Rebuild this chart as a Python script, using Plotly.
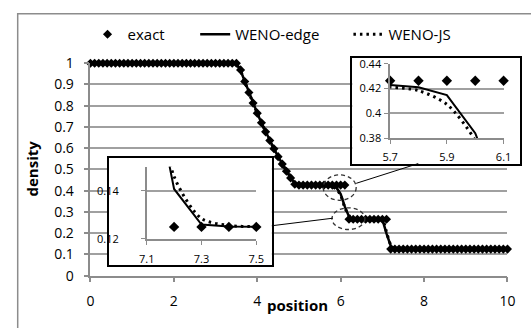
import plotly.graph_objects as go

# ---------------- data ----------------
x_pos = [
    0.0, 0.1, 0.2, 0.3, 0.4, 0.5, 0.6, 0.7, 0.8, 0.9,
    1.0, 1.1, 1.2, 1.3, 1.4, 1.5, 1.6, 1.7, 1.8, 1.9,
    2.0, 2.1, 2.2, 2.3, 2.4, 2.5, 2.6, 2.7, 2.8, 2.9,
    3.0, 3.1, 3.2, 3.3, 3.4, 3.5, 3.6, 3.7, 3.8, 3.9,
    4.0, 4.1, 4.2, 4.3, 4.4, 4.5, 4.6, 4.7, 4.8, 4.9,
    5.0, 5.1, 5.2, 5.3, 5.4, 5.5, 5.6, 5.7, 5.8, 5.9,
    6.0, 6.1, 6.2, 6.3, 6.4, 6.5, 6.6, 6.7, 6.8, 6.9,
    7.0, 7.1, 7.2, 7.3, 7.4, 7.5, 7.6, 7.7, 7.8, 7.9,
    8.0, 8.1, 8.2, 8.3, 8.4, 8.5, 8.6, 8.7, 8.8, 8.9,
    9.0, 9.1, 9.2, 9.3, 9.4, 9.5, 9.6, 9.7, 9.8, 9.9,
    10.0,
]

rho_exact = [
    1.0, 1.0, 1.0, 1.0, 1.0, 1.0, 1.0, 1.0, 1.0, 1.0,
    1.0, 1.0, 1.0, 1.0, 1.0, 1.0, 1.0, 1.0, 1.0, 1.0,
    1.0, 1.0, 1.0, 1.0, 1.0, 1.0, 1.0, 1.0, 1.0, 1.0,
    1.0, 1.0, 1.0, 1.0, 1.0, 1.0, 0.9687, 0.9142, 0.8621, 0.8124,
    0.7651, 0.7200, 0.6770, 0.6361, 0.5972, 0.5602, 0.5252, 0.4918, 0.4602, 0.4302,
    0.4263, 0.4263, 0.4263, 0.4263, 0.4263, 0.4263, 0.4263, 0.4263, 0.4263, 0.4263,
    0.4263, 0.4263, 0.2656, 0.2656, 0.2656, 0.2656, 0.2656, 0.2656, 0.2656, 0.2656,
    0.2656, 0.2656, 0.125, 0.125, 0.125, 0.125, 0.125, 0.125, 0.125, 0.125,
    0.125, 0.125, 0.125, 0.125, 0.125, 0.125, 0.125, 0.125, 0.125, 0.125,
    0.125, 0.125, 0.125, 0.125, 0.125, 0.125, 0.125, 0.125, 0.125, 0.125,
    0.125,
]

rho_weno_edge = [
    1.0, 1.0, 1.0, 1.0, 1.0, 1.0, 1.0, 1.0, 1.0, 1.0,
    1.0, 1.0, 1.0, 1.0, 1.0, 1.0, 1.0, 1.0, 1.0, 1.0,
    1.0, 1.0, 1.0, 1.0, 1.0, 1.0, 1.0, 1.0, 1.0, 1.0,
    1.0, 1.0, 1.0, 1.0, 1.0, 0.9990, 0.9650, 0.9135, 0.8618, 0.8122,
    0.7650, 0.7200, 0.6771, 0.6362, 0.5973, 0.5604, 0.5254, 0.4922, 0.4612, 0.4345,
    0.4262, 0.4258, 0.4254, 0.4250, 0.4245, 0.4240, 0.4234, 0.4228, 0.4210, 0.4147,
    0.3840, 0.3250, 0.2780, 0.2680, 0.2662, 0.2657, 0.2656, 0.2656, 0.2656, 0.2656,
    0.2652, 0.1980, 0.1408, 0.1260, 0.1252, 0.1251, 0.125, 0.125, 0.125, 0.125,
    0.125, 0.125, 0.125, 0.125, 0.125, 0.125, 0.125, 0.125, 0.125, 0.125,
    0.125, 0.125, 0.125, 0.125, 0.125, 0.125, 0.125, 0.125, 0.125, 0.125,
    0.125,
]

rho_weno_js = [
    1.0, 1.0, 1.0, 1.0, 1.0, 1.0, 1.0, 1.0, 1.0, 1.0,
    1.0, 1.0, 1.0, 1.0, 1.0, 1.0, 1.0, 1.0, 1.0, 1.0,
    1.0, 1.0, 1.0, 1.0, 1.0, 1.0, 1.0, 1.0, 1.0, 1.0,
    1.0, 1.0, 1.0, 1.0, 1.0, 0.9985, 0.9640, 0.9130, 0.8615, 0.8120,
    0.7648, 0.7199, 0.6771, 0.6363, 0.5975, 0.5606, 0.5257, 0.4927, 0.4620, 0.4355,
    0.4270, 0.4262, 0.4255, 0.4248, 0.4240, 0.4232, 0.4222, 0.4212, 0.4183, 0.4072,
    0.3780, 0.3200, 0.2830, 0.2700, 0.2668, 0.2660, 0.2657, 0.2656, 0.2656, 0.2656,
    0.2648, 0.2050, 0.1460, 0.1285, 0.1256, 0.1251, 0.125, 0.125, 0.125, 0.125,
    0.125, 0.125, 0.125, 0.125, 0.125, 0.125, 0.125, 0.125, 0.125, 0.125,
    0.125, 0.125, 0.125, 0.125, 0.125, 0.125, 0.125, 0.125, 0.125, 0.125,
    0.125,
]

series_names = ["exact", "WENO-edge", "WENO-JS"]

main_xticks = [0, 2, 4, 6, 8, 10]
main_yticks = [0, 0.1, 0.2, 0.3, 0.4, 0.5, 0.6, 0.7, 0.8, 0.9, 1]

inset1_xrange = [5.7, 6.1]
inset1_yrange = [0.38, 0.44]
inset1_xticks = [5.7, 5.9, 6.1]
inset1_yticks = [0.38, 0.40, 0.42, 0.44]
inset1_yticklabels = ["0.38", "0.4", "0.42", "0.44"]

inset2_xrange = [7.1, 7.5]
inset2_yrange = [0.12, 0.15]
inset2_xticks = [7.1, 7.3, 7.5]
inset2_yticks = [0.12, 0.14]

# ---------------- layout helpers ----------------
W, H = 531, 328
FONT = "Open Sans"
GRID = "#a0a0a0"
AXIS = "#8c8c8c"
DOT = "2.5px,4px"


def px(v):
    return v / W


def py(v):
    return 1 - v / H


def in_window(xs, ys, xr, yr):
    pts = [(a, b) for a, b in zip(xs, ys) if xr[0] - 1e-9 <= a <= xr[1] + 1e-9 and yr[0] <= b <= yr[1]]
    return [p[0] for p in pts], [p[1] for p in pts]


fig = go.Figure()

# main chart traces
fig.add_trace(go.Scatter(
    x=x_pos, y=rho_exact, mode="markers", name=series_names[0],
    marker=dict(symbol="diamond", size=7, color="black", line=dict(width=0)),
    cliponaxis=False, legend="legend",
))
fig.add_trace(go.Scatter(
    x=x_pos, y=rho_weno_edge, mode="lines", name=series_names[1],
    line=dict(color="black", width=2.5), legend="legend2",
))
fig.add_trace(go.Scatter(
    x=x_pos, y=rho_weno_js, mode="lines", name=series_names[2],
    line=dict(color="black", width=3, dash=DOT, shape="spline", smoothing=0.8),
    legend="legend3",
))

# inset boxes (empty subplots providing white background + black frame)
fig.add_trace(go.Scatter(x=[None], y=[None], xaxis="x2", yaxis="y2", showlegend=False, hoverinfo="skip"))

# inset 1
ex1, ey1 = in_window(x_pos, rho_exact, inset1_xrange, inset1_yrange)
fig.add_trace(go.Scatter(x=x_pos, y=rho_weno_edge, mode="lines", xaxis="x3", yaxis="y3",
                         line=dict(color="black", width=2), showlegend=False))
fig.add_trace(go.Scatter(x=x_pos, y=rho_weno_js, mode="lines", xaxis="x3", yaxis="y3",
                         line=dict(color="black", width=3, dash=DOT, shape="spline", smoothing=0.8),
                         showlegend=False))
fig.add_trace(go.Scatter(x=ex1, y=ey1, mode="markers", xaxis="x3", yaxis="y3",
                         marker=dict(symbol="diamond", size=8, color="black"),
                         cliponaxis=False, showlegend=False))

fig.add_trace(go.Scatter(x=[None], y=[None], xaxis="x4", yaxis="y4", showlegend=False, hoverinfo="skip"))

# inset 2
ex2, ey2 = in_window(x_pos, rho_exact, inset2_xrange, inset2_yrange)
fig.add_trace(go.Scatter(x=x_pos, y=rho_weno_edge, mode="lines", xaxis="x5", yaxis="y5",
                         line=dict(color="black", width=2), showlegend=False))
fig.add_trace(go.Scatter(x=x_pos, y=rho_weno_js, mode="lines", xaxis="x5", yaxis="y5",
                         line=dict(color="black", width=3, dash=DOT, shape="spline", smoothing=0.8),
                         showlegend=False))
fig.add_trace(go.Scatter(x=ex2, y=ey2, mode="markers", xaxis="x5", yaxis="y5",
                         marker=dict(symbol="diamond", size=8, color="black"),
                         cliponaxis=False, showlegend=False))

tickfont_main = dict(family=FONT, size=14, color="black")
tickfont_inset = dict(family=FONT, size=11, color="black")

box_axis = dict(showline=True, mirror=True, linecolor="black", linewidth=1.5,
                showgrid=False, zeroline=False, showticklabels=False, ticks="",
                range=[0, 1], fixedrange=True)

legend_common = dict(xanchor="left", yanchor="middle", orientation="h",
                     bgcolor="rgba(0,0,0,0)", font=dict(family=FONT, size=15, color="black"))

fig.update_layout(
    width=W, height=H,
    margin=dict(l=0, r=0, t=0, b=0),
    paper_bgcolor="white", plot_bgcolor="white",
    font=dict(family=FONT, color="black"),
    xaxis=dict(domain=[px(85), px(515)], range=[0, 10], tickvals=main_xticks,
               showgrid=False, zeroline=False, showline=True, linecolor=AXIS, linewidth=1.5,
               ticks="outside", ticklen=5, tickcolor=AXIS, tickwidth=1.5,
               tickfont=tickfont_main, ticklabelstandoff=7, anchor="y"),
    yaxis=dict(domain=[py(282), py(56.5)], range=[0, 1], tickvals=main_yticks,
               showgrid=True, gridcolor=GRID, gridwidth=1.5, zeroline=False,
               showline=True, linecolor=AXIS, linewidth=1.5,
               ticks="outside", ticklen=5, tickcolor=AXIS, tickwidth=1.5,
               tickfont=tickfont_main, ticklabelstandoff=7, anchor="x"),
    xaxis2=dict(domain=[px(355), px(528)], anchor="y2", **box_axis),
    yaxis2=dict(domain=[py(163), py(51)], anchor="x2", **box_axis),
    xaxis3=dict(domain=[px(394), px(511)], range=inset1_xrange, tickvals=inset1_xticks,
                anchor="y3", showgrid=False, zeroline=False, showline=True, linecolor=AXIS, linewidth=1.5,
                ticks="outside", ticklen=4, tickcolor=AXIS, tickfont=tickfont_inset, ticklabelstandoff=4),
    yaxis3=dict(domain=[py(136), py(57)], range=inset1_yrange, tickvals=inset1_yticks,
                ticktext=inset1_yticklabels,
                anchor="x3", showgrid=True, gridcolor=GRID, gridwidth=1.5, zeroline=False,
                showline=True, linecolor=AXIS, linewidth=1.5,
                ticks="outside", ticklen=4, tickcolor=AXIS, tickfont=tickfont_inset, ticklabelstandoff=1),
    xaxis4=dict(domain=[px(104), px(272)], anchor="y4", **box_axis),
    yaxis4=dict(domain=[py(271), py(157)], anchor="x4", **box_axis),
    xaxis5=dict(domain=[px(143), px(256)], range=inset2_xrange, tickvals=inset2_xticks,
                anchor="y5", showgrid=False, zeroline=False, showline=True, linecolor=AXIS, linewidth=1.5,
                ticks="outside", ticklen=4, tickcolor=AXIS, tickfont=tickfont_inset, ticklabelstandoff=5),
    yaxis5=dict(domain=[py(243), py(166.5)], range=inset2_yrange, tickvals=inset2_yticks,
                anchor="x5", showgrid=True, gridcolor=GRID, gridwidth=1.5, zeroline=False,
                showline=True, linecolor=AXIS, linewidth=1.5,
                ticks="outside", ticklen=4, tickcolor=AXIS, tickfont=tickfont_inset, ticklabelstandoff=20),
    legend=dict(x=px(82), y=py(26), **legend_common),
    legend2=dict(x=px(193), y=py(26), **legend_common),
    legend3=dict(x=px(351), y=py(26), **legend_common),
    annotations=[
        dict(text="<b>density</b>", x=px(25), y=py(168), xref="paper", yref="paper",
             xanchor="center", yanchor="middle",
             textangle=-90, showarrow=False, font=dict(family=FONT, size=15, color="black")),
        dict(text="<b>position</b>", x=px(298), y=py(313), xref="paper", yref="paper",
             xanchor="center", yanchor="middle",
             showarrow=False, font=dict(family=FONT, size=15, color="black")),
    ],
    shapes=[
        # outer chart-area frame (cropped on right/bottom)
        dict(type="rect", xref="paper", yref="paper", x0=px(10), y0=py(4), x1=px(545), y1=py(345),
             line=dict(color="#8c8c8c", width=1.5), layer="below"),
        # zoom ellipses
        dict(type="circle", xref="paper", yref="paper", x0=px(325), x1=px(359), y0=py(202), y1=py(175),
             line=dict(color="#333333", width=1.3, dash="4px,3px"), layer="above"),
        dict(type="circle", xref="paper", yref="paper", x0=px(334), x1=px(368), y0=py(233), y1=py(210),
             line=dict(color="#333333", width=1.3, dash="4px,3px"), layer="above"),
        # connector lines
        dict(type="line", xref="paper", yref="paper", x0=px(423), y0=py(163), x1=px(359), y1=py(184),
             line=dict(color="black", width=1), layer="above"),
        dict(type="line", xref="paper", yref="paper", x0=px(272), y0=py(229), x1=px(335), y1=py(221),
             line=dict(color="black", width=1), layer="above"),
    ],
)

fig.write_html("out.html")
